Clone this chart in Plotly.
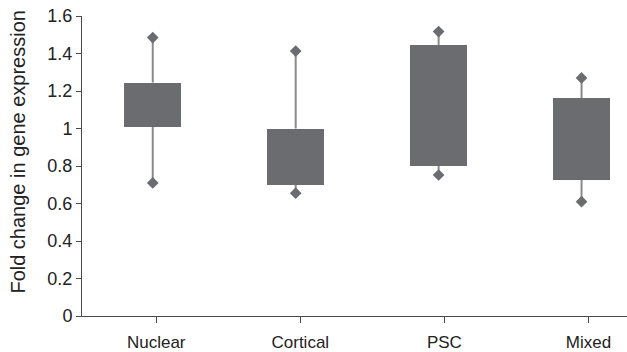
import plotly.graph_objects as go

categories = ["Nuclear", "Cortical", "PSC", "Mixed"]
whisker_min = [0.71, 0.655, 0.752, 0.61]
q1 = [1.008, 0.70, 0.80, 0.726]
q3 = [1.245, 1.0, 1.444, 1.161]
whisker_max = [1.485, 1.413, 1.517, 1.27]

box_color = "#6b6c70"
whisker_color = "#8a8a8a"
axis_color = "#4a4a4a"
font_family = "Liberation Sans, Arial, sans-serif"

fig = go.Figure()

# invisible trace to anchor the labelled category axis
fig.add_trace(go.Scatter(x=categories, y=[0] * len(categories), mode="markers",
                         xaxis="x", yaxis="y", marker=dict(opacity=0),
                         hoverinfo="skip", showlegend=False))

# whisker segments (min->q1 and q3->max)
wx, wy = [], []
for c, lo, a, b, hi in zip(categories, whisker_min, q1, q3, whisker_max):
    wx += [c, c, None, c, c, None]
    wy += [lo, a, None, b, hi, None]
fig.add_trace(go.Scatter(x=wx, y=wy, mode="lines", xaxis="x2", yaxis="y",
                         line=dict(color=whisker_color, width=2),
                         hoverinfo="skip", showlegend=False))

# boxes
fig.add_trace(go.Bar(x=categories, y=[b - a for a, b in zip(q1, q3)], base=q1,
                     width=0.4, xaxis="x2", yaxis="y",
                     marker=dict(color=box_color, line=dict(width=0)),
                     showlegend=False))

# diamond end markers
fig.add_trace(go.Scatter(x=categories + categories, y=whisker_min + whisker_max,
                         mode="markers", xaxis="x2", yaxis="y",
                         marker=dict(symbol="diamond", size=9, color=box_color),
                         showlegend=False))

fig.update_layout(
    width=627, height=352,
    margin=dict(l=82, r=0, t=16, b=36, pad=0),
    paper_bgcolor="white", plot_bgcolor="white",
    font=dict(family=font_family, color="#222222", size=17),
    xaxis=dict(type="category", categoryorder="array", categoryarray=categories,
               tickvals=categories, ticktext=categories,
               range=[-0.515, 3.267], showgrid=False, zeroline=False,
               showline=True, linecolor=axis_color, linewidth=1,
               ticks="outside", ticklen=6, tickcolor=axis_color, tickwidth=1,
               ticklabelstandoff=5,
               tickfont=dict(size=17, family=font_family, color="#222222")),
    xaxis2=dict(type="category", categoryorder="array", categoryarray=categories,
                overlaying="x", range=[-0.495, 3.318], visible=False,
                showgrid=False, zeroline=False),
    yaxis=dict(range=[0, 1.6], tickvals=[0, 0.2, 0.4, 0.6, 0.8, 1, 1.2, 1.4, 1.6],
               ticktext=["0", "0.2", "0.4", "0.6", "0.8", "1", "1.2", "1.4", "1.6"],
               showgrid=False, zeroline=False, showline=True,
               linecolor=axis_color, linewidth=1,
               ticks="outside", ticklen=5, tickcolor=axis_color, tickwidth=1,
               tickfont=dict(size=18, family=font_family, color="#222222")),
    bargap=0,
)

fig.add_annotation(text="Fold change in gene expression", textangle=-90,
                   xref="paper", yref="paper", x=-0.118, y=0.547,
                   xanchor="center", yanchor="middle", showarrow=False,
                   font=dict(size=20, family=font_family, color="#222222"))

fig.write_html("out.html")
